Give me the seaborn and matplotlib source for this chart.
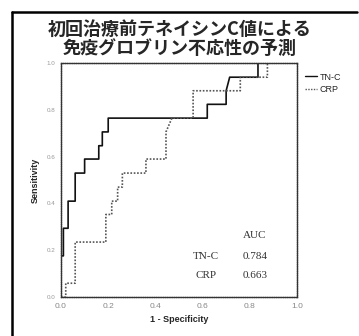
import matplotlib
matplotlib.use("Agg")
import matplotlib.pyplot as plt
import pandas as pd
import seaborn as sns
from matplotlib.lines import Line2D

# ROC curve vertices
tnc_fpr = [0.0, 0.0, 0.01, 0.01, 0.03, 0.03, 0.06, 0.06, 0.10, 0.10, 0.16, 0.16,
           0.175, 0.175, 0.20, 0.20, 0.62, 0.62, 0.70, 0.70, 0.715, 0.835, 0.835, 1.0]
tnc_tpr = [0.0, 0.176, 0.176, 0.294, 0.294, 0.41, 0.41, 0.53, 0.53, 0.59, 0.59, 0.647,
           0.647, 0.706, 0.706, 0.765, 0.765, 0.824, 0.824, 0.882, 0.94, 0.94, 1.0, 1.0]
crp_fpr = [0.0, 0.02, 0.02, 0.06, 0.06, 0.19, 0.19, 0.215, 0.215, 0.24, 0.24, 0.26, 0.26,
           0.36, 0.36, 0.445, 0.445, 0.47, 0.56, 0.56, 0.76, 0.76, 0.875, 0.875, 1.0]
crp_tpr = [0.0, 0.0, 0.059, 0.059, 0.235, 0.235, 0.353, 0.353, 0.41, 0.41, 0.47, 0.47, 0.53,
           0.53, 0.59, 0.59, 0.706, 0.765, 0.765, 0.882, 0.882, 0.94, 0.94, 1.0, 1.0]
markers = ["TN-C", "CRP"]
auc_values = ["0.784", "0.663"]
ticks = [0.0, 0.2, 0.4, 0.6, 0.8, 1.0]

df = pd.concat([
    pd.DataFrame({"fpr": tnc_fpr, "tpr": tnc_tpr, "marker": "TN-C"}),
    pd.DataFrame({"fpr": crp_fpr, "tpr": crp_tpr, "marker": "CRP"}),
])

sns.set_style("white")
plt.rcParams["font.family"] = ["Liberation Sans", "DejaVu Sans"]

fig = plt.figure(figsize=(3.59, 3.36), dpi=100)
ax = fig.add_axes([0.170, 0.116, 0.657, 0.696])

sns.lineplot(data=df, x="fpr", y="tpr", hue="marker", style="marker",
             palette={"TN-C": "#111111", "CRP": "#555555"},
             dashes={"TN-C": "", "CRP": (1, 1)},
             sort=False, estimator=None, legend=False, ax=ax, linewidth=1.2)

ax.set_xlim(0, 1)
ax.set_ylim(0, 1)
ax.set_xticks(ticks)
ax.set_yticks(ticks)
ax.set_xticklabels([f"{t:.1f}" for t in ticks], fontsize=6, color="#888888")
ax.set_yticklabels([f"{t:.1f}" for t in ticks], fontsize=4.5, color="#999999")
ax.tick_params(axis="both", direction="out", length=2, width=0.6, color="#777777", pad=2)
for sp in ax.spines.values():
    sp.set_color("#333333")
    sp.set_linewidth(1.0)
    sp.set_linestyle((0, (1, 0.6)))

ax.set_xlabel("1 - Specificity", fontsize=6.5, fontweight="bold", labelpad=4)
ax.set_ylabel("Sensitivity", fontsize=6.5, fontweight="bold", labelpad=5)

# AUC table inside the axes
serif = ["Liberation Serif", "DejaVu Serif"]
ax.text(0.82, 0.262, "AUC", fontsize=8, family=serif, ha="center", va="center", color="#333333")
for i, (m, v) in enumerate(zip(markers, auc_values)):
    y = 0.175 - i * 0.085
    ax.text(0.615, y, m, fontsize=8, family=serif, ha="center", va="center", color="#333333")
    ax.text(0.825, y, v, fontsize=8, family=serif, ha="center", va="center", color="#333333")

# legend outside on the right
handles = [Line2D([], [], color="#111111", lw=1.0),
           Line2D([], [], color="#555555", lw=1.0, ls=(0, (1, 1)))]
ax.legend(handles, markers, loc="upper left", bbox_to_anchor=(1.02, 0.975), frameon=False,
          fontsize=6.5, handlelength=1.3, handletextpad=0.3, labelspacing=0.35, borderaxespad=0)

fig.text(0.50, 0.884, "初回治療前テネイシンC値による\n免疫グロブリン不応性の予測",
         ha="center", va="center", fontsize=13, linespacing=1.05,
         family=["Noto Sans CJK JP", "DejaVu Sans"], fontweight="bold")

# frame of the figure panel (left and top edges)
fig.add_artist(Line2D([12 / 359, 12 / 359], [0, 1 - 12 / 336], color="black", lw=1.8,
                      transform=fig.transFigure))
fig.add_artist(Line2D([12 / 359, 357 / 359], [1 - 12 / 336, 1 - 12 / 336], color="black", lw=1.8,
                      transform=fig.transFigure))

fig.savefig("out.png", dpi=100)
